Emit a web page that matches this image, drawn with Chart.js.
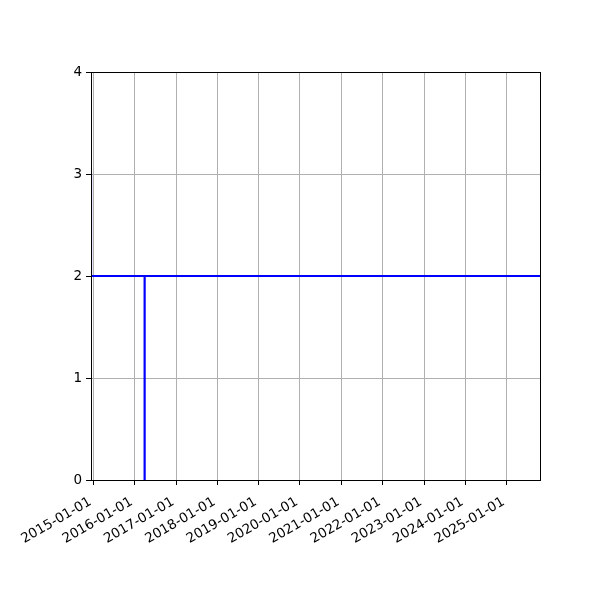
<!DOCTYPE html>
<html>
<head>
<meta charset="utf-8">
<script src="https://cdn.jsdelivr.net/npm/chart.js@4"></script>
<style>
  body { margin: 0; background: #fff; }
  #chart { display: block; }
</style>
</head>
<body>
<canvas id="chart" width="600" height="600"></canvas>
<script>
// step data
const pointDates = ['2014-12-11', '2014-12-11', '2016-03-29', '2016-03-29', '2016-03-29', '2025-10-22'];
const pointValues = [3, 2, 2, 0, 2, 2];

const tickLabels = ['2015-01-01', '2016-01-01', '2017-01-01', '2018-01-01', '2019-01-01', '2020-01-01',
    '2021-01-01', '2022-01-01', '2023-01-01', '2024-01-01', '2025-01-01'];
const yTicks = [0, 1, 2, 3, 4];

const xMin = Date.parse('2014-12-11');
const xMax = Date.parse('2025-10-22');

const points = pointDates.map((d, i) => ({ x: Date.parse(d), y: pointValues[i] }));
const tickValues = tickLabels.map(t => Date.parse(t));

function fmtDate(v) {
    const d = new Date(v);
    const mm = String(d.getUTCMonth() + 1).padStart(2, '0');
    const dd = String(d.getUTCDate()).padStart(2, '0');
    return `${d.getUTCFullYear()}-${mm}-${dd}`;
}

// black box round the plot area, like the axes spines
const frame = {
    id: 'frame',
    afterDatasetsDraw(chart) {
        const { ctx, chartArea: a } = chart;
        ctx.save();
        ctx.strokeStyle = '#000';
        ctx.lineWidth = 1;
        ctx.strokeRect(Math.round(a.left) + 0.5, Math.round(a.top) + 0.5,
            Math.round(a.right - a.left), Math.round(a.bottom - a.top));
        ctx.restore();
    }
};

const font = { family: 'DejaVu Sans', size: 13.5 };

new Chart(document.getElementById('chart'), {
    type: 'line',
    data: {
        datasets: [{
            data: points,
            borderColor: '#0000ff',
            borderWidth: 2.2,
            pointRadius: 0,
            fill: false,
            tension: 0,
            clip: 0,
        }]
    },
    options: {
        responsive: false,
        animation: false,
        layout: { padding: { top: 72, right: 60, left: 0, bottom: 0 } },
        plugins: { legend: { display: false }, tooltip: { enabled: false } },
        scales: {
            x: {
                type: 'linear',
                min: xMin,
                max: xMax,
                afterBuildTicks: scale => { scale.ticks = tickValues.map(v => ({ value: v })); },
                afterFit: scale => { scale.height = 120; },
                grid: { color: '#b0b0b0', lineWidth: 1, tickColor: '#000', tickLength: 5 },
                border: { display: false },
                ticks: {
                    autoSkip: false,
                    maxRotation: 30,
                    minRotation: 30,
                    padding: 9,
                    labelOffset: -3,
                    color: '#000',
                    font: font,
                    callback: v => fmtDate(v),
                }
            },
            y: {
                min: 0,
                max: 4,
                afterBuildTicks: scale => { scale.ticks = yTicks.map(v => ({ value: v })); },
                afterFit: scale => { scale.width = 91; },
                grid: { color: '#b0b0b0', lineWidth: 1, tickColor: '#000', tickLength: 5 },
                border: { display: false },
                ticks: { color: '#000', font: font, padding: 4 }
            }
        }
    },
    plugins: [frame]
});
</script>
</body>
</html>
